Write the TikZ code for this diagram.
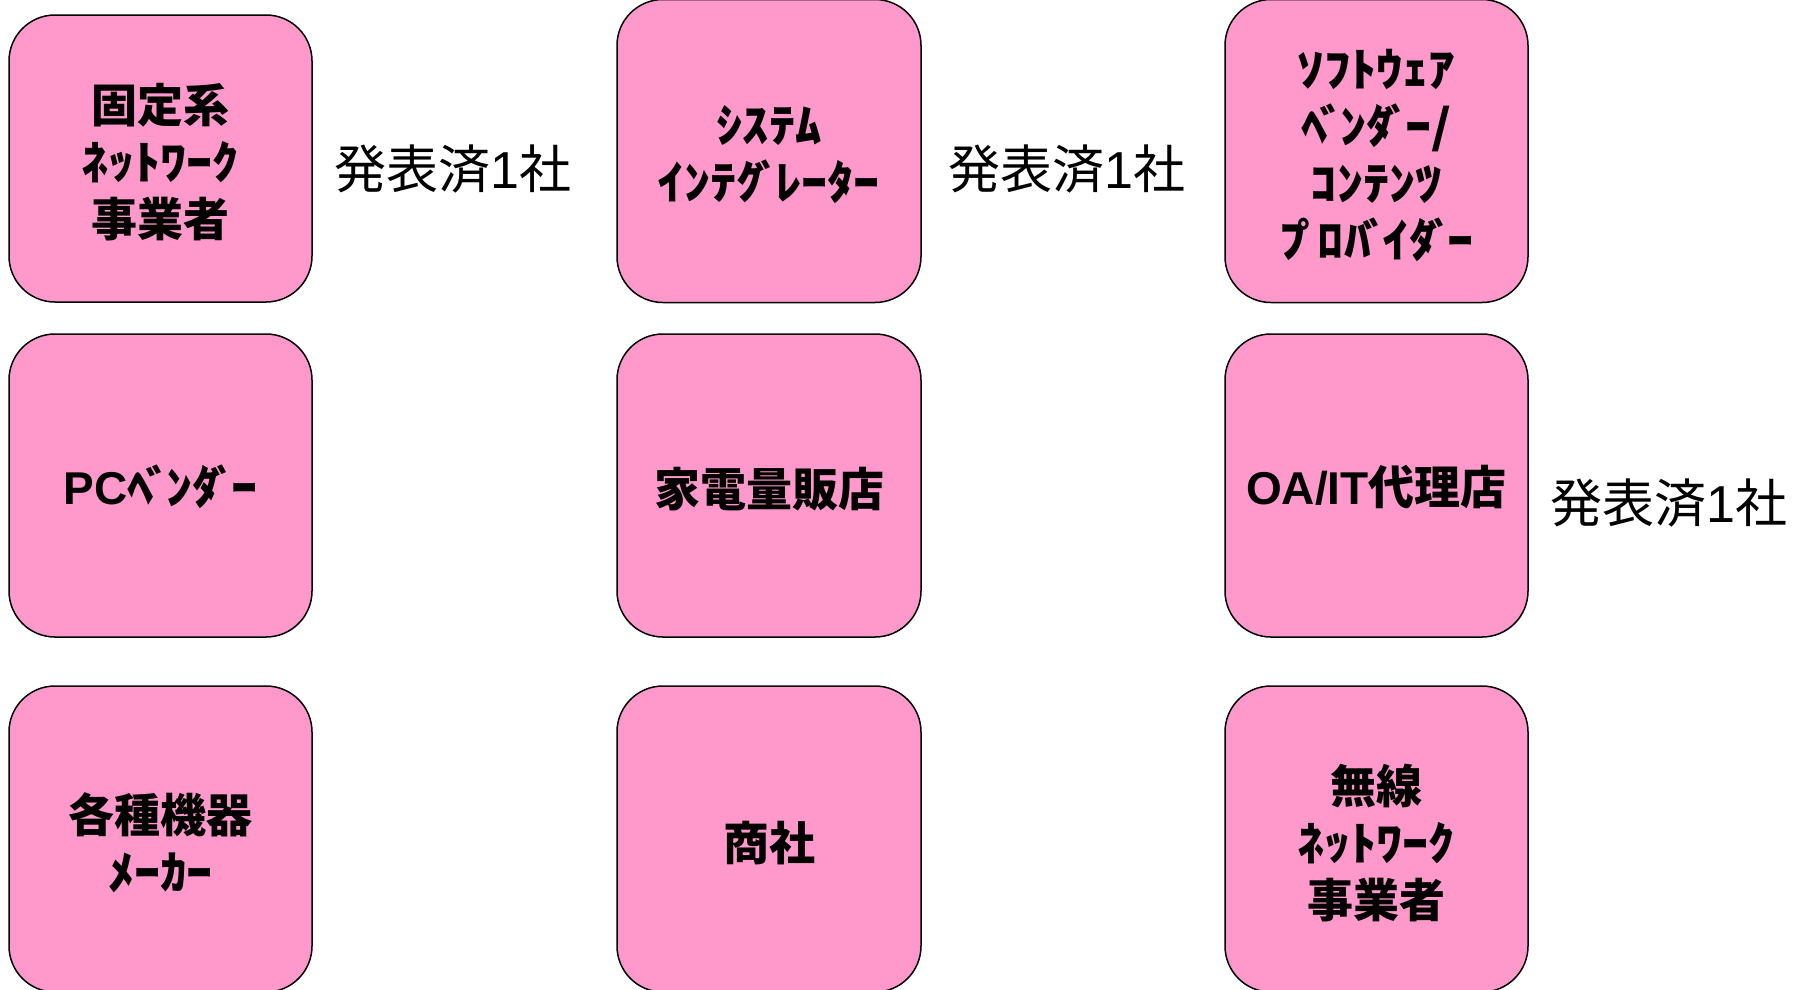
\documentclass[tikz,border=0pt]{standalone}
\usepackage{fontspec}
\usepackage{graphicx}
\newfontfamily\jp{Noto Sans CJK JP}
\newfontfamily\lat{Liberation Sans}
\definecolor{boxpink}{RGB}{255,153,204}
\newcommand\hk[1]{\scalebox{1.14}[1]{#1}}
\newcommand\dk{\kern-7pt ﾞ\kern-5pt}
\tikzset{
  card/.style={draw=black, line width=1.5pt, fill=boxpink, rounded corners=46pt, inner sep=0pt},
  cardtext/.style={align=center, inner sep=0pt, text=black,
    font=\jp\bfseries\fontsize{46}{57}\selectfont},
  donelabel/.style={inner sep=0pt, text=black, font=\jp\fontsize{52}{60}\selectfont}
}
\begin{document}
\begin{tikzpicture}[x=1pt,y=-1pt]
\useasboundingbox (0,0) rectangle (1794,989);
% row 1
\node[card, minimum width=303pt, minimum height=287pt] (b11) at (160.5,158.5) {};
\node[card, minimum width=304pt, minimum height=303pt] (b12) at (769,151) {};
\node[card, minimum width=303pt, minimum height=303pt] (b13) at (1376.5,151) {};
% row 2
\node[card, minimum width=303pt, minimum height=303pt] (b21) at (160.5,485.5) {};
\node[card, minimum width=304pt, minimum height=303pt] (b22) at (769,485.5) {};
\node[card, minimum width=303pt, minimum height=303pt] (b23) at (1376.5,485.5) {};
% row 3
\node[card, minimum width=303pt, minimum height=306pt] (b31) at (160.5,839) {};
\node[card, minimum width=304pt, minimum height=306pt] (b32) at (769,839) {};
\node[card, minimum width=303pt, minimum height=306pt] (b33) at (1376.5,839) {};
% texts
\node[cardtext] (t11) at ([yshift=-4pt]b11.center) {固定系\\\hk{ﾈｯﾄﾜｰｸ}\\事業者};
\node[cardtext] (t12) at ([yshift=-4pt]b12.center) {\hk{ｼｽﾃﾑ}\\\hk{ｲﾝﾃｸ\dk ﾚｰﾀｰ}};
\node[cardtext] (t13) at ([yshift=-4pt]b13.center) {\hk{ｿﾌﾄｳｪｱ}\\\hk{ﾍ\dk ﾝﾀ\dk ｰ/}\\\hk{ｺﾝﾃﾝﾂ}\\\hk{ﾌ\kern-7pt ﾟ\kern-5pt ﾛﾊ\dk ｲﾀ\dk ｰ}};
\node[cardtext] (t21) at ([yshift=-1pt]b21.center) {{\lat\bfseries PC}\hk{ﾍ\dk ﾝﾀ\dk ｰ}};
\node[cardtext] (t22) at ([yshift=-4pt]b22.center) {家電量販店};
\node[cardtext] (t23) at ([yshift=-2pt]b23.center) {{\lat\bfseries OA/IT}代理店};
\node[cardtext] (t31) at ([yshift=-4pt]b31.center) {各種機器\\\hk{ﾒｰｶｰ}};
\node[cardtext] (t32) at ([yshift=-4pt]b32.center) {商社};
\node[cardtext] (t33) at ([yshift=-4pt]b33.center) {無線\\\hk{ﾈｯﾄﾜｰｸ}\\事業者};
% labels
\node[donelabel] (l1) at (453,169) {発表済{\lat 1}社};
\node[donelabel] (l2) at (1067,169) {発表済{\lat 1}社};
\node[donelabel] (l3) at (1669,503) {発表済{\lat 1}社};
\end{tikzpicture}
\end{document}
